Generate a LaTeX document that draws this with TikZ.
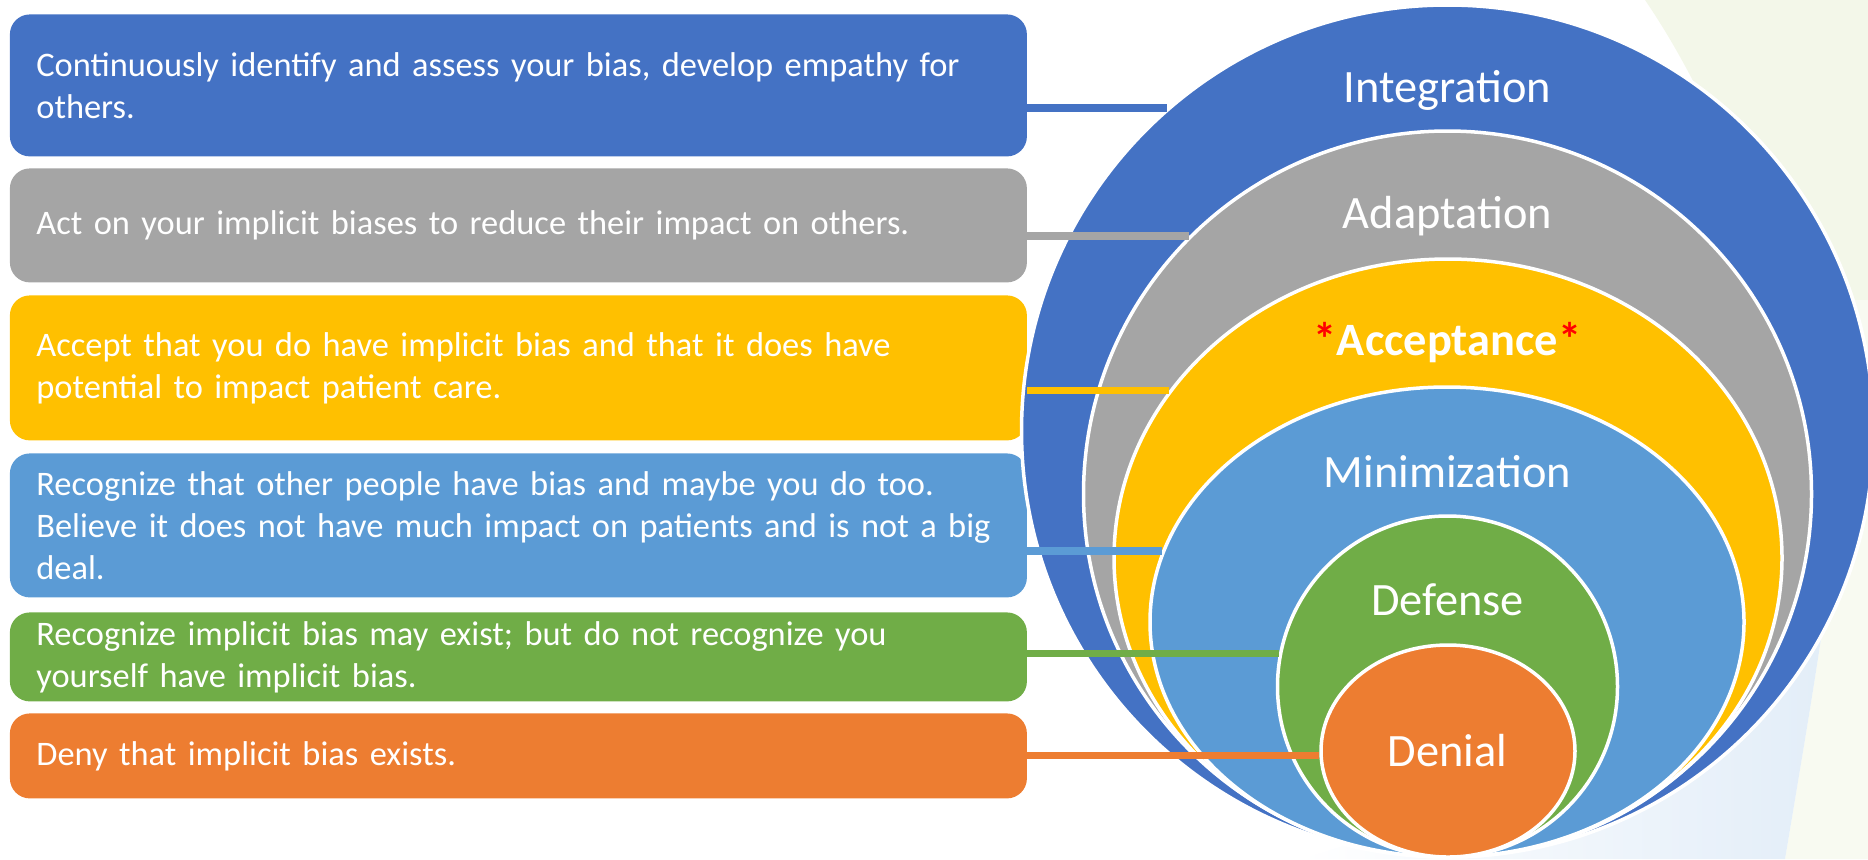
\documentclass[tikz,border=0pt]{standalone}
\usepackage{fontspec}
\setmainfont{Carlito}
\usetikzlibrary{shapes.geometric,calc}

\definecolor{ringblue}{HTML}{4472C4}
\definecolor{ringgray}{HTML}{A5A5A5}
\definecolor{ringgold}{HTML}{FFC000}
\definecolor{ringsky}{HTML}{5B9BD5}
\definecolor{ringgreen}{HTML}{70AD47}
\definecolor{ringorange}{HTML}{ED7D31}
\definecolor{hazegreen}{HTML}{F3F7E9}
\definecolor{hazeblue}{HTML}{E2EDF8}
\definecolor{hazecream}{HTML}{F8FAF1}

\newcommand{\boxfont}{\fontsize{17.2pt}{21pt}\selectfont}
\newcommand{\ringfont}{\fontsize{23.2pt}{28pt}\selectfont}

\begin{document}
\begin{tikzpicture}[x=0.5pt, y=-0.5pt,
  stagebox/.style={rounded corners=10pt, inner xsep=13.25pt, inner ysep=0pt,
    minimum width=508.5pt, text width=482pt, align=left, text=white,
    font=\boxfont, anchor=north west},
  ring/.style={ellipse, draw=white, line width=1.75pt, inner sep=0pt},
  ringlabel/.style={text=white, font=\ringfont, anchor=base},
  link/.style={line width=3.75pt}]
  \useasboundingbox (0,0) rectangle (1868,859);

  % Soft background swooshes
  \fill[hazegreen] (1645,0) .. controls (1720,110) and (1800,300) .. (1835,560)
    -- (1868,560) -- (1868,0) -- cycle;
  \fill[hazecream] (1835,300) -- (1868,300) -- (1868,859) -- (1785,859)
    .. controls (1805,740) and (1822,640) .. (1835,540) -- cycle;
  \shade[left color=white, right color=hazeblue] (1300,859)
    .. controls (1600,770) and (1760,650) .. (1835,540)
    .. controls (1822,640) and (1805,740) .. (1785,859) -- cycle;

  % Stage descriptions
  \node[stagebox, fill=ringblue, minimum height=71pt] (b1) at (9.5,14)
    {Continuously identify and assess your bias, develop empathy for\\others.};
  \node[stagebox, fill=ringgray, minimum height=57pt] (b2) at (9.5,168)
    {Act on your implicit biases to reduce their impact on others.};
  \node[stagebox, fill=ringgold, minimum height=72.5pt] (b3) at (9.5,295)
    {Accept that you do have implicit bias and that it does have\\potential to impact patient care.};
  \node[stagebox, fill=ringsky, minimum height=72pt] (b4) at (9.5,453)
    {Recognize that other people have bias and maybe you do too.\\Believe it does not have much impact on patients and is not a big\\deal.};
  \node[stagebox, fill=ringgreen, minimum height=44.5pt] (b5) at (9.5,612)
    {Recognize implicit bias may exist; but do not recognize you\\yourself have implicit bias.};
  \node[stagebox, fill=ringorange, minimum height=42.5pt] (b6) at (9.5,713)
    {Deny that implicit bias exists.};

  % Nested stages, all touching at the bottom
  \node[ring, fill=ringblue, minimum width=426pt, minimum height=426pt] (e1) at (1447.5,431) {};
  \node[ring, fill=ringgray, minimum width=364pt, minimum height=363pt] (e2) at (1447.5,494) {};
  \node[ring, fill=ringgold, minimum width=334pt, minimum height=299pt] (e3) at (1448,558) {};
  \node[ring, fill=ringsky, minimum width=297pt, minimum height=235pt] (e4) at (1447,622) {};
  \node[ring, fill=ringgreen, minimum width=170pt, minimum height=170.5pt] (e5) at (1447.5,686.5) {};
  \node[ring, fill=ringorange, minimum width=127pt, minimum height=106pt] (e6) at (1448,751) {};

  \node[ringlabel] (l1) at (1447.5,102) {Integration};
  \node[ringlabel] (l2) at (1447.5,228) {Adaptation};
  \node[ringlabel] (l3) at (1447.5,355) {\bfseries\textcolor{red}{*}Acceptance\textcolor{red}{*}};
  \node[ringlabel] (l4) at (1447.5,487) {Minimization};
  \node[ringlabel] (l5) at (1447.5,615) {Defense};
  \node[ringlabel] (l6) at (1447.5,766) {Denial};

  % Links from each box to its stage
  \draw[link, ringblue] (e1.131 -| b1.east) -- (e1.131);
  \draw[link, ringgray] (e2.135.4 -| b2.east) -- (e2.135.4);
  \draw[link, ringgold] (e3.149.9 -| b3.east) -- (e3.149.9);
  \draw[link, ringsky] (e4.166.2 -| b4.east) -- (e4.166.2);
  \draw[link, ringgreen] (e5.169.7 -| b5.east) -- (e5.169.7);
  \draw[link, ringorange] (e6.182 -| b6.east) -- (e6.182);
\end{tikzpicture}
\end{document}
